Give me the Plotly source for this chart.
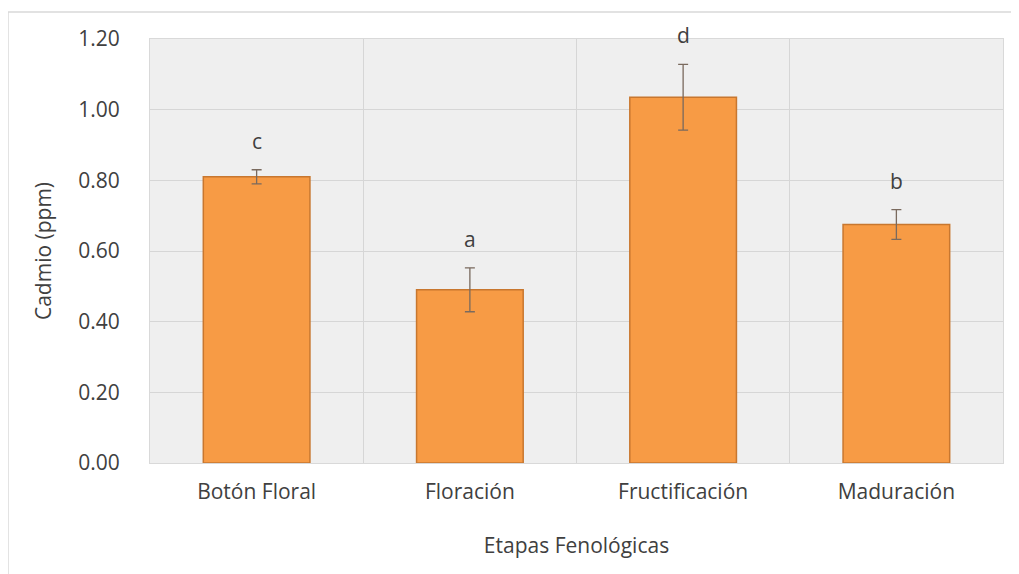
import plotly.graph_objects as go

categories = ["Botón Floral", "Floración", "Fructificación", "Maduración"]
values = [0.81, 0.49, 1.035, 0.675]
errors = [0.02, 0.062, 0.093, 0.042]
letters = ["c", "a", "d", "b"]
y_ticks = [0.0, 0.2, 0.4, 0.6, 0.8, 1.0, 1.2]

font_family = "'Open Sans', sans-serif"
txt = "#404040"

fig = go.Figure()
fig.add_trace(go.Bar(
    x=categories, y=values,
    marker=dict(color="#F79B45", line=dict(color="#C8772F", width=1.5)),
    error_y=dict(type="data", array=errors, visible=True, color="#7a6a5e", thickness=1.3, width=5),
    width=0.5,
))

for c, v, e, l in zip(categories, values, errors, letters):
    fig.add_annotation(x=c, y=v + e, text=l, showarrow=False, yshift=29,
                       font=dict(size=21, color=txt, family=font_family))

fig.update_layout(
    width=1019, height=574,
    margin=dict(l=142, r=24, t=31, b=119),
    paper_bgcolor="white",
    plot_bgcolor="#efefef",
    showlegend=False,
    font=dict(family=font_family, color=txt),
    xaxis=dict(
        tickson="boundaries", showgrid=True, gridcolor="#d6d6d6", gridwidth=1,
        ticks="", tickfont=dict(size=21, color=txt), ticklabelstandoff=10,
        title=dict(text="Etapas Fenológicas", font=dict(size=21, color=txt), standoff=34),
        showline=True, linecolor="#d9d9d9", mirror=True,
    ),
    yaxis=dict(
        range=[0, 1.2], tickvals=y_ticks, tickformat=".2f",
        showgrid=True, gridcolor="#d6d6d6", gridwidth=1,
        tickfont=dict(size=21, color=txt), ticks="", ticklabelstandoff=25,
        title=dict(text="Cadmio (ppm)", font=dict(size=21, color=txt), standoff=20),
        zeroline=False, showline=True, linecolor="#d9d9d9", mirror=True,
    ),
)

fig.add_shape(type="rect", xref="paper", yref="paper",
              x0=-0.1665, x1=1.1, y0=-0.4, y1=1.0637,
              line=dict(color="#d9d9d9", width=1.5), fillcolor="rgba(0,0,0,0)", layer="below")

fig.write_html("out.html")
